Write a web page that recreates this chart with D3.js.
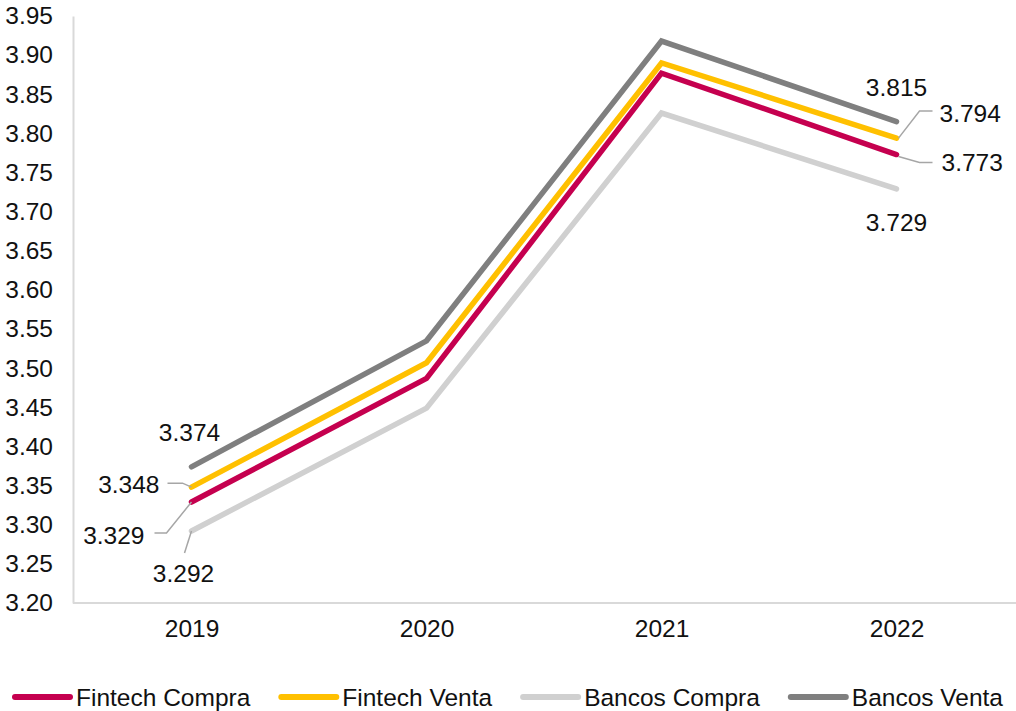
<!DOCTYPE html>
<html>
<head>
<meta charset="utf-8">
<script src="https://cdn.jsdelivr.net/npm/d3@7"></script>
<style>
  html, body { margin: 0; padding: 0; background: #fff; }
  svg { display: block; font-family: "Liberation Sans", Arial, sans-serif; }
</style>
</head>
<body>
<svg id="chart" width="1016" height="711"></svg>
<script>
// Categories and tick labels
const years = ["2019", "2020", "2021", "2022"];
const yTicks = [3.20, 3.25, 3.30, 3.35, 3.40, 3.45, 3.50, 3.55, 3.60, 3.65, 3.70, 3.75, 3.80, 3.85, 3.90, 3.95];

// Series values
const fintechCompra = [3.329, 3.487, 3.877, 3.773];
const fintechVenta  = [3.348, 3.507, 3.890, 3.794];
const bancosCompra  = [3.292, 3.449, 3.826, 3.729];
const bancosVenta   = [3.374, 3.535, 3.918, 3.815];

const seriesNames = ["Fintech Compra", "Fintech Venta", "Bancos Compra", "Bancos Venta"];
const seriesValues = [fintechCompra, fintechVenta, bancosCompra, bancosVenta];
const seriesColors = ["#C5004F", "#FFC000", "#D0D0D0", "#7F7F7F"];

const svg = d3.select("#chart");
const textColor = "#111111";
const fontSize = "24.5px";

const x = d3.scalePoint().domain(years).range([74, 1014]).padding(0.5);
const y = d3.scaleLinear().domain([3.20, 3.95]).range([603, 16]);

// Y axis
const yAxis = svg.append("g")
  .attr("transform", "translate(73,0)")
  .call(d3.axisLeft(y).tickValues(yTicks).tickFormat(d3.format(".2f")).tickSize(0).tickPadding(20));
yAxis.select(".domain").attr("stroke", "#d9d9d9").attr("stroke-width", 2);
yAxis.selectAll("text").attr("fill", textColor).style("font-size", fontSize)
  .style("font-family", "'Liberation Sans', Arial, sans-serif");

// X axis
const xAxis = svg.append("g")
  .attr("transform", "translate(0,603)")
  .call(d3.axisBottom(x).tickSize(0).tickPadding(17));
xAxis.select(".domain").attr("d", "M73,0H1016").attr("stroke", "#d9d9d9").attr("stroke-width", 2);
xAxis.selectAll("text").attr("fill", textColor).style("font-size", fontSize)
  .style("font-family", "'Liberation Sans', Arial, sans-serif");

// Lines
const line = d3.line().x((d, i) => x(years[i])).y(d => y(d));
seriesValues.forEach((vals, k) => {
  svg.append("path")
    .datum(vals)
    .attr("d", line)
    .attr("fill", "none")
    .attr("stroke", seriesColors[k])
    .attr("stroke-width", 5.5)
    .attr("stroke-linejoin", "miter")
    .attr("stroke-linecap", "round");
});

// Data labels at the first and last year
// [series index, year index, dx, dy, anchor, leader points relative to the data point]
const labelSpecs = [
  { s: 3, i: 0, dx: -2,  dy: -34, anchor: "middle", leader: null },
  { s: 1, i: 0, dx: -32, dy: -3,  anchor: "end",    leader: [[-24, -4], [-9, -4], [0, 0]] },
  { s: 0, i: 0, dx: -47, dy: 33,  anchor: "end",    leader: [[-37, 31], [-25, 31], [0, 0]] },
  { s: 2, i: 0, dx: -8,  dy: 42,  anchor: "middle", leader: [[-7, 22], [0, 0]] },
  { s: 3, i: 3, dx: 0,   dy: -34, anchor: "middle", leader: null },
  { s: 1, i: 3, dx: 43,  dy: -25, anchor: "start",  leader: [[36, -27], [23, -27], [2, 0]] },
  { s: 0, i: 3, dx: 45,  dy: 8,   anchor: "start",  leader: [[36, 8], [23, 8], [2, 2]] },
  { s: 2, i: 3, dx: 0,   dy: 33,  anchor: "middle", leader: null }
];

labelSpecs.forEach(spec => {
  const v = seriesValues[spec.s][spec.i];
  const px = x(years[spec.i]);
  const py = y(v);
  if (spec.leader) {
    svg.append("path")
      .attr("d", d3.line()(spec.leader.map(p => [px + p[0], py + p[1]])))
      .attr("fill", "none")
      .attr("stroke", "#a6a6a6")
      .attr("stroke-width", 1.5);
  }
  svg.append("text")
    .attr("x", px + spec.dx)
    .attr("y", py + spec.dy)
    .attr("dy", "0.35em")
    .attr("text-anchor", spec.anchor)
    .attr("fill", textColor)
    .style("font-size", fontSize)
    .text(d3.format(".3f")(v));
});

// Legend
const legend = svg.append("g").attr("transform", "translate(13,697)");
let lx = 0;
seriesNames.forEach((name, k) => {
  const item = legend.append("g").attr("transform", `translate(${lx},0)`);
  item.append("line")
    .attr("x1", 2).attr("x2", 57).attr("y1", 0).attr("y2", 0)
    .attr("stroke", seriesColors[k])
    .attr("stroke-width", 6)
    .attr("stroke-linecap", "round");
  const t = item.append("text")
    .attr("x", 63).attr("y", 0).attr("dy", "0.35em")
    .attr("fill", textColor)
    .style("font-size", fontSize)
    .text(name);
  lx += 63 + t.node().getComputedTextLength() + 29;
});
</script>
</body>
</html>
